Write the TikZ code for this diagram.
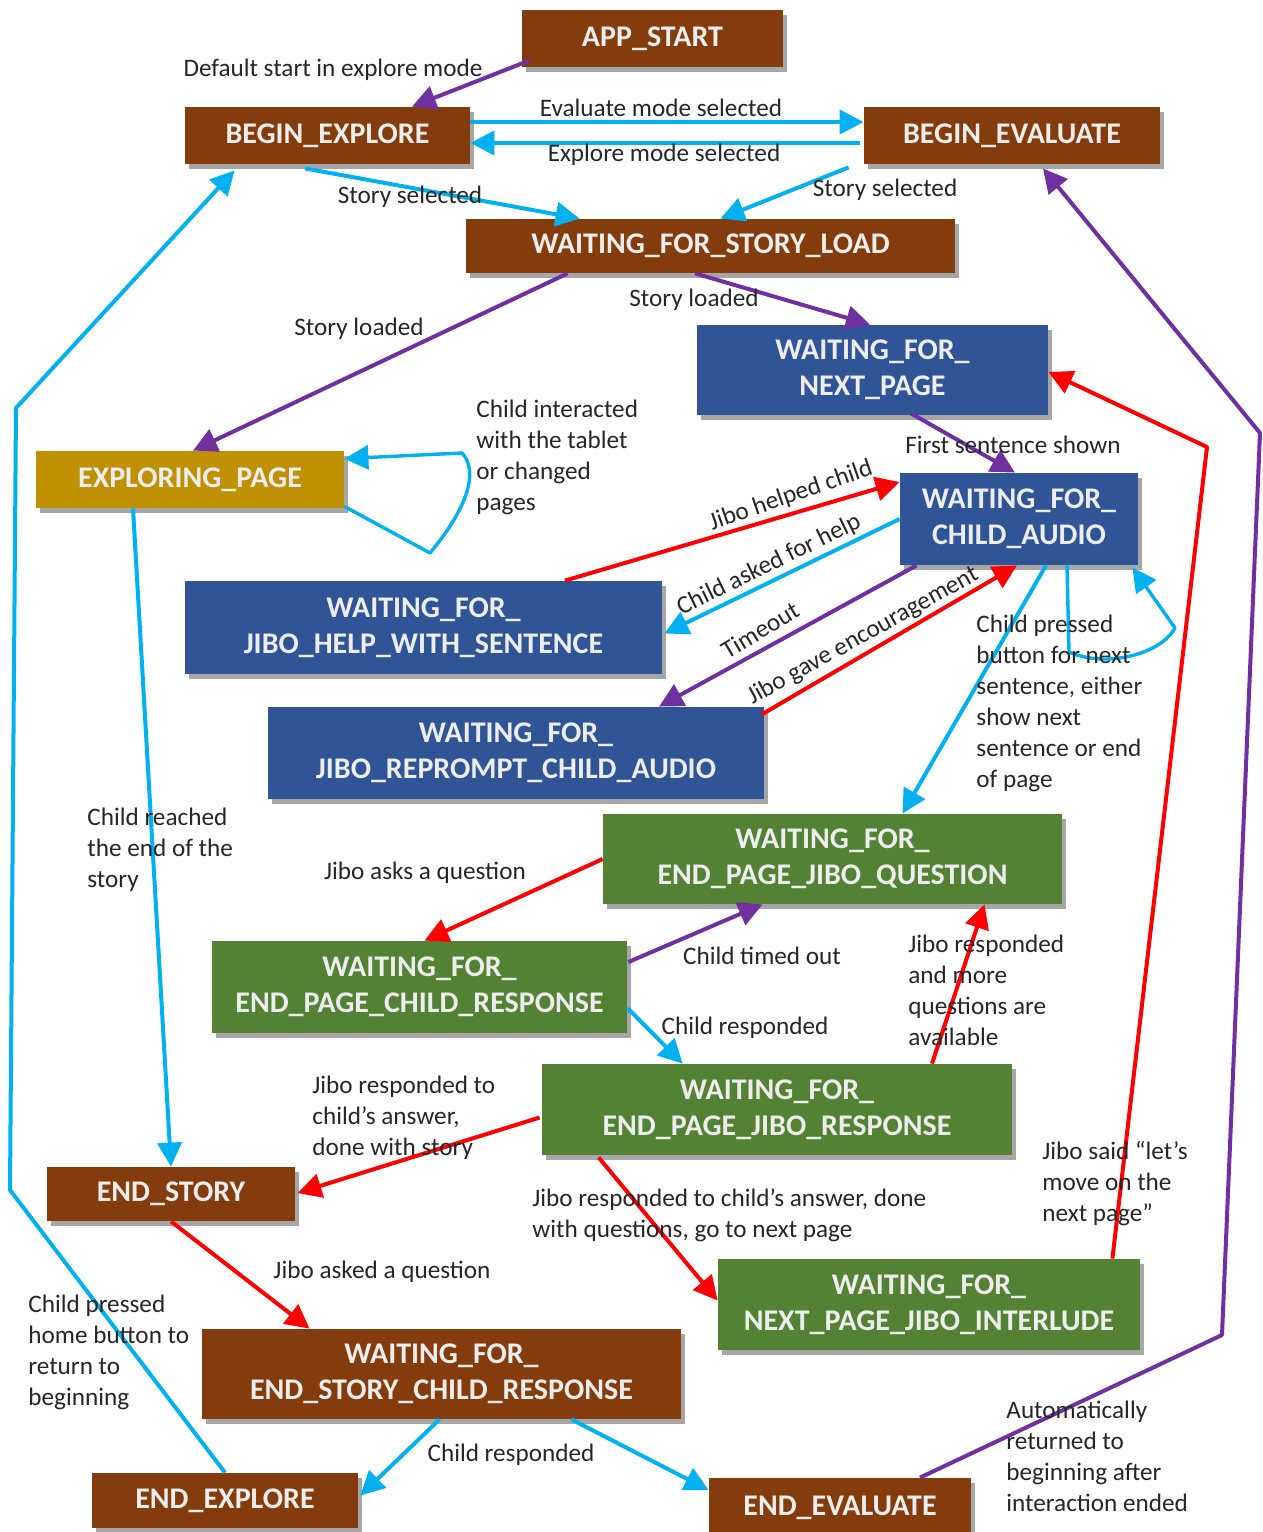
\documentclass[tikz,border=0pt]{standalone}
\usepackage{fontspec}
\setmainfont{Carlito}
\usetikzlibrary{arrows.meta,shadows,calc}
\definecolor{cbrown}{HTML}{843C0C}
\definecolor{cblue}{HTML}{2F5597}
\definecolor{cgreen}{HTML}{548235}
\definecolor{cgold}{HTML}{BF9000}
\definecolor{boxtext}{HTML}{EDEDED}
\definecolor{ctext}{HTML}{262626}
\definecolor{ccyan}{HTML}{00B0F0}
\definecolor{cpurple}{HTML}{7030A0}
\definecolor{cred}{HTML}{FF0000}
\tikzset{
  stbox/.style={rectangle, inner sep=2pt, text=boxtext, align=center,
    font=\bfseries\fontsize{15}{18}\selectfont,
    drop shadow={shadow xshift=2pt,shadow yshift=-2.5pt,opacity=0.35,fill=black}},
  brownst/.style={stbox, fill=cbrown},
  bluest/.style={stbox, fill=cblue},
  greenst/.style={stbox, fill=cgreen},
  goldst/.style={stbox, fill=cgold},
  lbl/.style={font=\fontsize{12.6}{15.5}\selectfont, text=ctext, inner sep=0pt},
  lblblock/.style={lbl, align=left, anchor=north west},
  conn/.style={line width=2pt, line join=round, -{Triangle[length=12pt,width=12pt]}},
  cy/.style={conn, draw=ccyan},
  pu/.style={conn, draw=cpurple},
  rd/.style={conn, draw=cred},
}
\begin{document}
\begin{tikzpicture}[x=0.5pt,y=-0.5pt]
\useasboundingbox (0,0) rectangle (1263,1532);
% boxes
\node[brownst, minimum width=130.5pt, minimum height=28.5pt] (app) at (652.5,38.5) {APP\_START};
\node[brownst, minimum width=142.5pt, minimum height=28.5pt] (bexp) at (327.5,135.5) {BEGIN\_EXPLORE};
\node[brownst, minimum width=148pt, minimum height=28.5pt] (beval) at (1012,135.5) {BEGIN\_EVALUATE};
\node[brownst, minimum width=244.5pt, minimum height=27pt] (wfsl) at (710.5,246) {WAITING\_FOR\_STORY\_LOAD};
\node[bluest, minimum width=175.5pt, minimum height=45pt] (wfnp) at (872.5,370) {WAITING\_FOR\_\\NEXT\_PAGE};
\node[goldst, minimum width=154pt, minimum height=28.5pt] (explp) at (190,479.5) {EXPLORING\_PAGE};
\node[bluest, minimum width=119pt, minimum height=46pt] (wfca) at (1019,519) {WAITING\_FOR\_\\CHILD\_AUDIO};
\node[bluest, minimum width=238.5pt, minimum height=46.5pt] (help) at (423.5,627.5) {WAITING\_FOR\_\\JIBO\_HELP\_WITH\_SENTENCE};
\node[bluest, minimum width=248pt, minimum height=46pt] (repr) at (516,753) {WAITING\_FOR\_\\JIBO\_REPROMPT\_CHILD\_AUDIO};
\node[greenst, minimum width=229.5pt, minimum height=45pt] (jq) at (832.5,859) {WAITING\_FOR\_\\END\_PAGE\_JIBO\_QUESTION};
\node[greenst, minimum width=207.5pt, minimum height=46pt] (cr) at (419.5,987) {WAITING\_FOR\_\\END\_PAGE\_CHILD\_RESPONSE};
\node[greenst, minimum width=235pt, minimum height=45.5pt] (jr) at (777,1109.5) {WAITING\_FOR\_\\END\_PAGE\_JIBO\_RESPONSE};
\node[brownst, minimum width=124pt, minimum height=27pt] (es) at (171,1194) {END\_STORY};
\node[greenst, minimum width=211pt, minimum height=45.5pt] (npji) at (929,1304.5) {WAITING\_FOR\_\\NEXT\_PAGE\_JIBO\_INTERLUDE};
\node[brownst, minimum width=239.5pt, minimum height=45pt] (escr) at (441.5,1374) {WAITING\_FOR\_\\END\_STORY\_CHILD\_RESPONSE};
\node[brownst, minimum width=133pt, minimum height=27.5pt] (eexp) at (225,1500.5) {END\_EXPLORE};
\node[brownst, minimum width=131pt, minimum height=28pt, text depth=0pt] (eeval) at (840,1506) {END\_EVALUATE};
% connectors
\draw[pu] ([shift={(8,-7)}]app.south west) -- ([shift={(84.5,0)}]bexp.north);
\draw[cy] ([shift={(0,-13.5)}]bexp.east) -- ([shift={(0,-13.5)}]beval.west);
\draw[cy] ([shift={(-4,7.5)}]beval.west) -- ([shift={(0,7.5)}]bexp.east);
\draw[cy] ([shift={(-22.5,4)}]bexp.south) -- ([shift={(114,0)}]wfsl.north west);
\draw[cy] ([shift={(-15,3)}]beval.south west) -- ([shift={(10,0)}]wfsl.north);
\draw[pu] ([shift={(102,0)}]wfsl.south west) -- ([shift={(3,0)}]explp.north);
\draw[pu] ([shift={(-15.5,0)}]wfsl.south) -- ([shift={(-2.5,0)}]wfnp.north);
\draw[cy, line width=1.7pt] ([shift={(0,-2)}]explp.south east) -- (430,553) .. controls (470,505) and (478,470) .. (462,453) -- ([shift={(0,8)}]explp.north east);
\draw[pu] ([shift={(38.5,-2)}]wfnp.south) -- ([shift={(-4,0)}]wfca.north);
\draw[rd] ([shift={(141.5,0)}]help.north) -- ([shift={(0,-37)}]wfca.west);
\draw[cy] (wfca.west) -- ([shift={(2,6)}]help.east);
\draw[pu] ([shift={(17,0)}]wfca.south west) -- ([shift={(143,0)}]repr.north);
\draw[rd] ([shift={(-3,8)}]repr.north east) -- ([shift={(-2,0)}]wfca.south);
\draw[cy] ([shift={(27,0)}]wfca.south) -- ([shift={(70,0)}]jq.north);
\draw[cy, line width=1.7pt] ([shift={(48,0)}]wfca.south) -- (1069,652) .. controls (1105,668) and (1160,655) .. (1175,628) -- ([shift={(-6,2)}]wfca.south east);
\draw[cy] ([shift={(-57,0)}]explp.south) -- (es.north);
\draw[rd] (jq.west) -- ([shift={(5,0)}]cr.north);
\draw[pu] ([shift={(1,-25)}]cr.east) -- ([shift={(-70,0)}]jq.south);
\draw[cy] ([shift={(0,21)}]cr.east) -- ([shift={(141,0)}]jr.north west);
\draw[rd] ([shift={(155,0)}]jr.north) -- ([shift={(152,0)}]jq.south);
\draw[rd] ([shift={(-2,8)}]jr.west) -- ([shift={(2,-1)}]es.east);
\draw[rd] ([shift={(57,2)}]jr.south west) -- ([shift={(0,-4)}]npji.west);
\draw[rd] ([shift={(-28,0)}]npji.north east) -- (1207,447) -- ([shift={(0,2)}]wfnp.east);
\draw[rd] (es.south) -- ([shift={(108,0)}]escr.north west);
\draw[cy] ([shift={(-2,0)}]escr.south) -- ([shift={(2,-5)}]eexp.east);
\draw[cy] ([shift={(130,0)}]escr.south) -- ([shift={(0,-16)}]eeval.west);
\draw[cy] (eexp.north) -- (10,1190) -- (16,408) -- ([shift={(50,6)}]bexp.south west);
\draw[pu] ([shift={(80,0)}]eeval.north) -- (1222,1335) -- (1260,433) -- ([shift={(31,4)}]beval.south);
% labels
\node[lbl] (l1) at (333,70) {Default start in explore mode};
\node[lbl] (l2) at (661,108) {Evaluate mode selected};
\node[lbl] (l3) at (664,155) {Explore mode selected};
\node[lbl] (l4) at (410,197) {Story selected};
\node[lbl] (l5) at (885,190) {Story selected};
\node[lbl] (l6) at (359,329) {Story loaded};
\node[lbl] (l7) at (694,300) {Story loaded};
\node[lblblock] (l8) at (476,400) {Child interacted\\with the tablet\\or changed\\pages};
\node[lbl] (l9) at (1013,445) {First sentence shown};
\node[lbl,rotate=19] (l10) at (791,496) {Jibo helped child};
\node[lbl,rotate=26] (l11) at (769,565) {Child asked for help};
\node[lbl,rotate=31] (l12) at (760,630) {Timeout};
\node[lbl,rotate=29] (l13) at (863,636) {Jibo gave encouragement};
\node[lblblock] (l14) at (976,615) {Child pressed\\button for next\\sentence, either\\show next\\sentence or end\\of page};
\node[lblblock] (l15) at (87,808) {Child reached\\the end of the\\story};
\node[lbl] (l16) at (425,873) {Jibo asks a question};
\node[lbl] (l17) at (762,956) {Child timed out};
\node[lbl] (l18) at (745,1028) {Child responded};
\node[lblblock] (l19) at (908,935) {Jibo responded\\and more\\questions are\\available};
\node[lblblock] (l20) at (312,1076) {Jibo responded to\\child’s answer,\\done with story};
\node[lblblock] (l21) at (532,1188) {Jibo responded to child’s answer, done\\with questions, go to next page};
\node[lblblock] (l22) at (1042,1141) {Jibo said “let’s\\move on the\\next page”};
\node[lbl] (l23) at (382,1272) {Jibo asked a question};
\node[lblblock] (l24) at (28,1295) {Child pressed\\home button to\\return to\\beginning};
\node[lbl] (l25) at (511,1455) {Child responded};
\node[lblblock] (l26) at (1006,1401) {Automatically\\returned to\\beginning after\\interaction ended};
\end{tikzpicture}
\end{document}
